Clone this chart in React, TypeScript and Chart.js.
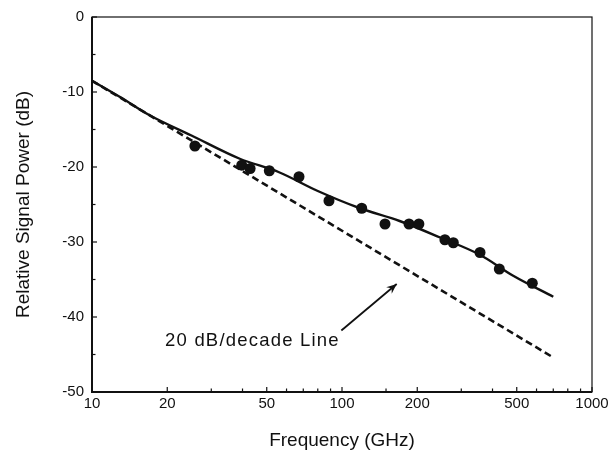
import React, { useEffect, useRef } from "react";
import { Chart, registerables } from "chart.js";

Chart.register(...registerables);

// Measured data points (frequency in GHz, relative power in dB)
const measFreq = [25.8, 39.7, 42.9, 51.2, 67.3, 88.7, 119.9, 148.6, 185.4, 203, 258, 278.8, 356.5, 425.9, 577];
const measPower = [-17.2, -19.75, -20.2, -20.5, -21.3, -24.5, -25.5, -27.6, -27.6, -27.6, -29.7, -30.1, -31.4, -33.6, -35.5];

// Fitted solid curve
const curveFreq = [10, 13, 17, 25, 39, 56, 80, 118, 170, 247, 356, 484, 700];
const curvePower = [-8.5, -10.7, -13.1, -15.8, -18.9, -20.7, -23.2, -25.5, -27.2, -29.4, -31.7, -34.5, -37.3];

// 20 dB/decade reference line
const refFreq = [10, 700];
const refPower = [-8.5, -45.4];

// Axis tick labels
const xLabelValues = [10, 20, 50, 100, 200, 500, 1000];
const yMin = -50;
const yMax = 0;
const yStep = 10;

// Annotation (data units)
const annotationText = "20 dB/decade Line";
const annotationTextPos = { x: 19.6, y: -43.25 };
const arrowTail = { x: 99.4, y: -41.8 };
const arrowTip = { x: 165.5, y: -35.6 };

const FONT = "'Liberation Sans', Arial, Helvetica, sans-serif";
const INK = "#111";

const framePlugin = {
  id: "frame",
  afterDraw(chart: any) {
    const { ctx, chartArea: a, scales } = chart;
    const xs = scales.x;
    const ys = scales.y;
    ctx.save();
    ctx.strokeStyle = INK;
    ctx.lineWidth = 1.2;
    ctx.strokeRect(a.left, a.top, a.right - a.left, a.bottom - a.top);
    ctx.lineWidth = 2;
    ctx.beginPath();
    ctx.moveTo(a.left, a.top);
    ctx.lineTo(a.left, a.bottom);
    ctx.lineTo(a.right, a.bottom);
    ctx.stroke();

    // inward x ticks
    ctx.lineWidth = 1.2;
    xs.ticks.forEach((t: any) => {
      const px = xs.getPixelForValue(t.value);
      const major = xLabelValues.includes(t.value);
      const len = major ? 5 : 3.5;
      ctx.beginPath();
      ctx.moveTo(px, a.bottom);
      ctx.lineTo(px, a.bottom - len);
      ctx.stroke();
    });
    // inward y ticks (major + half steps)
    for (let v = yMin; v <= yMax; v += yStep / 2) {
      const py = ys.getPixelForValue(v);
      const major = v % yStep === 0;
      const len = major ? 5 : 3.5;
      ctx.beginPath();
      ctx.moveTo(a.left, py);
      ctx.lineTo(a.left + len, py);
      ctx.stroke();
    }
    ctx.restore();
  },
};

const annotationPlugin = {
  id: "annot",
  afterDraw(chart: any) {
    const { ctx, scales } = chart;
    const xs = scales.x;
    const ys = scales.y;
    ctx.save();
    ctx.fillStyle = INK;
    ctx.font = `18.5px ${FONT}`;
    try {
      (ctx as any).letterSpacing = "1.2px";
    } catch (e) {}
    ctx.textAlign = "left";
    ctx.textBaseline = "middle";
    ctx.fillText(annotationText, xs.getPixelForValue(annotationTextPos.x), ys.getPixelForValue(annotationTextPos.y));

    const x1 = xs.getPixelForValue(arrowTail.x);
    const y1 = ys.getPixelForValue(arrowTail.y);
    const x2 = xs.getPixelForValue(arrowTip.x);
    const y2 = ys.getPixelForValue(arrowTip.y);
    ctx.strokeStyle = INK;
    ctx.lineWidth = 1.8;
    ctx.beginPath();
    ctx.moveTo(x1, y1);
    ctx.lineTo(x2, y2);
    ctx.stroke();
    const ang = Math.atan2(y2 - y1, x2 - x1);
    const hl = 11;
    const hw = 0.4;
    ctx.beginPath();
    ctx.moveTo(x2, y2);
    ctx.lineTo(x2 - hl * Math.cos(ang - hw), y2 - hl * Math.sin(ang - hw));
    ctx.lineTo(x2 - hl * 0.6 * Math.cos(ang), y2 - hl * 0.6 * Math.sin(ang));
    ctx.lineTo(x2 - hl * Math.cos(ang + hw), y2 - hl * Math.sin(ang + hw));
    ctx.closePath();
    ctx.fill();
    ctx.restore();
  },
};

export default function App() {
  const ref = useRef<HTMLCanvasElement | null>(null);

  useEffect(() => {
    if (!ref.current) return;
    Chart.defaults.font.family = FONT;
    Chart.defaults.color = INK;

    const chart = new Chart(ref.current, {
      type: "line",
      data: {
        datasets: [
          {
            label: "Measured",
            data: measFreq.map((f, i) => ({ x: f, y: measPower[i] })),
            showLine: false,
            pointRadius: 5.5,
            pointBackgroundColor: INK,
            pointBorderColor: INK,
            pointBorderWidth: 0,
          },
          {
            label: "Fit",
            data: curveFreq.map((f, i) => ({ x: f, y: curvePower[i] })),
            borderColor: INK,
            borderWidth: 2.4,
            pointRadius: 0,
            cubicInterpolationMode: "monotone",
            fill: false,
          },
          {
            label: "20 dB/decade",
            data: refFreq.map((f, i) => ({ x: f, y: refPower[i] })),
            borderColor: INK,
            borderWidth: 2.6,
            borderDash: [7, 4],
            pointRadius: 0,
            fill: false,
          },
        ],
      },
      options: {
        animation: false,
        responsive: true,
        maintainAspectRatio: false,
        layout: { padding: { top: 13, right: 21, left: 0, bottom: 0 } },
        plugins: {
          legend: { display: false },
          tooltip: { enabled: false },
        },
        scales: {
          x: {
            type: "logarithmic",
            min: 10,
            max: 1000,
            grid: { display: false, drawTicks: false },
            border: { display: false },
            afterFit: (s: any) => {
              s.height = 62;
            },
            ticks: {
              autoSkip: false,
              maxRotation: 0,
              padding: 3,
              font: { size: 15 },
              color: INK,
              callback: (v: any) => (xLabelValues.includes(Number(v)) ? String(v) : ""),
            },
            title: {
              display: true,
              text: "Frequency (GHz)",
              font: { size: 19 },
              color: INK,
              padding: { top: 0, bottom: 2 },
            },
          },
          y: {
            min: yMin,
            max: yMax,
            grid: { display: false, drawTicks: false },
            border: { display: false },
            afterFit: (s: any) => {
              s.width = 92;
            },
            ticks: {
              stepSize: yStep,
              padding: 8,
              font: { size: 15 },
              color: INK,
            },
            title: {
              display: true,
              text: "Relative Signal Power (dB)",
              font: { size: 19 },
              color: INK,
              padding: { top: 12, bottom: 0 },
            },
          },
        },
      },
      plugins: [framePlugin, annotationPlugin],
    } as any);

    return () => chart.destroy();
  }, []);

  return (
    <div style={{ position: "fixed", left: 0, top: 0, width: 613, height: 454, background: "#fff" }}>
      <canvas ref={ref} />
    </div>
  );
}
